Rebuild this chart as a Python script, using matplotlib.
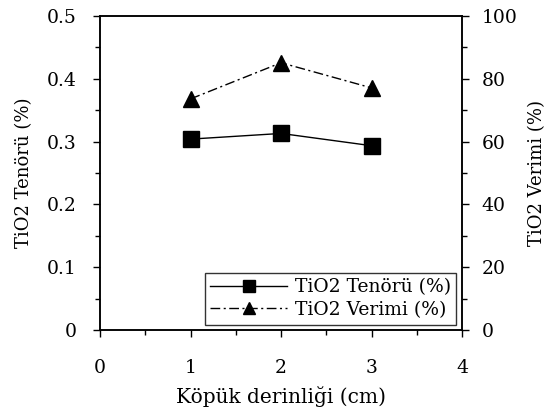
import matplotlib
matplotlib.use('Agg')
import matplotlib.pyplot as plt
from matplotlib.ticker import MultipleLocator, FuncFormatter

plt.rcParams['font.family'] = ['DejaVu Serif']

# data
derinlik = [1, 2, 3]
tenor = [0.304, 0.313, 0.2935]
verim = [73.6, 85.1, 77.1]

fig = plt.figure(figsize=(5.56, 4.19), dpi=100)
ax = fig.add_axes([0.18, 0.212, 0.651, 0.75])
ax2 = ax.twinx()

l1, = ax.plot(derinlik, tenor, color='black', marker='s', markersize=11,
              linestyle='-', linewidth=1, label='TiO2 Tenörü (%)')
l2, = ax2.plot(derinlik, verim, color='black', marker='^', markersize=11,
               linestyle=(0, (7, 2.5, 1.5, 2.5)), linewidth=1, label='TiO2 Verimi (%)')

ax.set_xlim(0, 4)
ax.set_ylim(0, 0.5)
ax2.set_ylim(0, 100)
ax.xaxis.set_major_locator(MultipleLocator(1))
ax.xaxis.set_minor_locator(MultipleLocator(0.5))
ax.yaxis.set_major_locator(MultipleLocator(0.1))
ax.yaxis.set_minor_locator(MultipleLocator(0.05))
ax2.yaxis.set_major_locator(MultipleLocator(20))
ax2.yaxis.set_minor_locator(MultipleLocator(10))
ax.yaxis.set_major_formatter(FuncFormatter(lambda v, p: '0' if abs(v) < 1e-9 else '%.1f' % v))

for a in (ax, ax2):
    a.tick_params(which='both', direction='out', labelsize=13.5, width=1)
    a.tick_params(which='major', length=5)
    a.tick_params(which='minor', length=3.5)
    for s in a.spines.values():
        s.set_linewidth(1.1)
ax.tick_params(axis='x', pad=16)
ax.tick_params(axis='y', pad=12)
ax2.tick_params(axis='y', pad=9)

ax.set_xlabel('Köpük derinliği (cm)', fontsize=14.5, labelpad=6)
ax.set_ylabel('TiO2 Tenörü (%)', fontsize=13, labelpad=10)
ax2.set_ylabel('TiO2 Verimi (%)', fontsize=13, labelpad=8)

leg = ax.legend(handles=[l1, l2], loc='lower right', fontsize=13.5,
                frameon=True, fancybox=False, edgecolor='black',
                borderaxespad=0.3, handlelength=4.1, labelspacing=0.25,
                borderpad=0.3, handletextpad=0.4, markerscale=0.75)
leg.get_frame().set_linewidth(1)

fig.savefig('out.png', dpi=100)
